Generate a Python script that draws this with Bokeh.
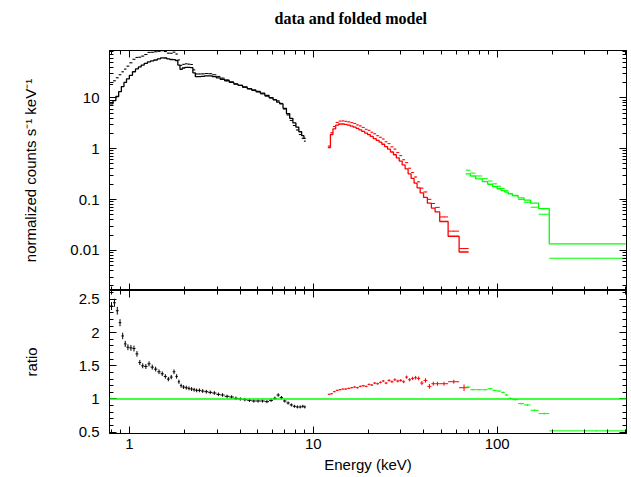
import numpy as np
from bokeh.plotting import figure
from bokeh.layouts import column
from bokeh.models import (Range1d, LogAxis, LinearAxis, Span, Title,
                          NumeralTickFormatter, LogTicker, SingleIntervalTicker)
from bokeh.embed import file_html
from bokeh.resources import INLINE

# ---------------- data ----------------
# black instrument: bin centres (keV), folded model, data/model ratio
black_e = [0.80, 0.83, 0.86, 0.89, 0.92, 0.95, 0.98, 1.02, 1.06, 1.10,
           1.14, 1.18, 1.23, 1.28, 1.33, 1.39, 1.45, 1.51, 1.57, 1.63,
           1.69, 1.75, 1.81, 1.86, 1.91, 1.97, 2.04, 2.11, 2.18, 2.25,
           2.32, 2.40, 2.50, 2.62, 2.75, 2.90, 3.05, 3.20, 3.40, 3.60,
           3.80, 4.00, 4.25, 4.50, 4.75, 5.00, 5.30, 5.60, 5.90, 6.20,
           6.45, 6.70, 7.00, 7.30, 7.60, 7.90, 8.20, 8.50, 8.80, 9.00]
black_model = [7.6, 8.8, 10.6, 13.2, 16.6, 20.0, 23.5, 27.5, 32.5, 37.0,
               40.5, 44.0, 47.5, 51.0, 53.0, 55.3, 58.0, 61.0, 60.5, 58.0,
               56.5, 56.0, 54.0, 44.0, 36.3, 38.5, 39.7, 39.5, 39.2, 31.0,
               26.0, 26.0, 26.3, 27.0, 27.0, 26.0, 24.6, 23.0, 21.6, 20.0,
               18.6, 17.6, 16.3, 15.2, 14.3, 13.4, 12.3, 11.2, 10.1, 9.1,
               8.2, 7.6, 6.2, 4.9, 3.95, 3.2, 2.65, 2.15, 1.8, 1.6]
black_ratio = [2.40, 2.45, 2.33, 2.15, 1.95, 1.83, 1.78, 1.77, 1.76, 1.68,
               1.55, 1.50, 1.49, 1.53, 1.48, 1.45, 1.41, 1.38, 1.34, 1.30,
               1.33, 1.41, 1.34, 1.26, 1.20, 1.18, 1.17, 1.16, 1.15, 1.14,
               1.13, 1.13, 1.12, 1.11, 1.10, 1.09, 1.07, 1.06, 1.04, 1.03,
               1.01, 1.00, 0.99, 0.98, 0.97, 0.97, 0.97, 0.96, 0.98, 1.01,
               1.06, 1.02, 0.97, 0.94, 0.91, 0.89, 0.88, 0.88, 0.89, 0.88]
black_range = [0.785, 9.1]

# red instrument
red_e = [12.2, 12.6, 13.0, 13.5, 14.0, 14.5, 15.0, 15.6, 16.2, 16.8,
         17.4, 18.0, 18.7, 19.4, 20.1, 20.8, 21.6, 22.4, 23.2, 24.0,
         24.9, 25.8, 26.8, 27.8, 28.8, 29.9, 31.0, 32.2, 33.4, 34.7,
         36.0, 37.4, 38.9, 40.7, 42.8, 45.0, 47.0, 50.5, 58.0, 66.5]
red_model = [1.05, 1.9, 2.45, 2.9, 3.05, 3.05, 3.0, 2.9, 2.78, 2.65,
             2.5, 2.35, 2.18, 2.02, 1.88, 1.74, 1.58, 1.46, 1.34, 1.22,
             1.1, 0.98, 0.86, 0.76, 0.66, 0.57, 0.48, 0.40, 0.32, 0.26,
             0.21, 0.17, 0.135, 0.11, 0.085, 0.068, 0.057, 0.037, 0.019, 0.0093]
red_ratio = [1.07, 1.08, 1.11, 1.13, 1.14, 1.15, 1.15, 1.16, 1.17, 1.18,
             1.17, 1.19, 1.20, 1.19, 1.22, 1.21, 1.24, 1.23, 1.25, 1.27,
             1.24, 1.28, 1.26, 1.29, 1.27, 1.28, 1.26, 1.33, 1.29, 1.31,
             1.32, 1.31, 1.24, 1.28, 1.19, 1.23, 1.23, 1.23, 1.26, 1.17]
red_err = [0.01, 0.01, 0.01, 0.01, 0.01, 0.01, 0.01, 0.01, 0.01, 0.01,
           0.012, 0.012, 0.012, 0.012, 0.012, 0.014, 0.014, 0.015, 0.015, 0.016,
           0.017, 0.018, 0.018, 0.02, 0.02, 0.02, 0.022, 0.024, 0.025, 0.026,
           0.028, 0.03, 0.032, 0.034, 0.036, 0.03, 0.03, 0.03, 0.03, 0.05]
red_range = [12.0, 70.0]

# green instrument: bin edges (keV)
green_edges = [67.5, 71.5, 76.4, 83.0, 88.8, 94.5, 100.0, 105.0, 110.0, 115.0,
               121.0, 130.0, 140.0, 152.0, 168.0, 192.0, 500.0]
green_model = [0.32, 0.29, 0.255, 0.225, 0.20, 0.18, 0.163, 0.15, 0.14, 0.13,
               0.12, 0.108, 0.097, 0.085, 0.066, 0.0135]
green_ratio = [1.18, 1.14, 1.14, 1.14, 1.155, 1.13, 1.12, 1.10, 1.06, 1.01,
               0.99, 0.93, 0.91, 0.83, 0.78, 0.52]
green_err = [0.012, 0.01, 0.01, 0.01, 0.01, 0.01, 0.01, 0.01, 0.012, 0.012,
             0.012, 0.012, 0.014, 0.014, 0.014, 0.01]

BLACK, RED, GREEN = "#000000", "#ff0000", "#00ff00"
FONT = "Liberation Sans"


def edges_from_centres(c, rng):
    c = np.asarray(c, dtype=float)
    mids = np.sqrt(c[:-1] * c[1:])
    return np.concatenate([[rng[0]], mids, [rng[1]]])


def hist_xy(edges, vals):
    xs = np.repeat(np.asarray(edges, dtype=float), 2)[1:-1]
    ys = np.repeat(np.asarray(vals, dtype=float), 2)
    return xs, ys


def crosses(p, edges, vals, err, color):
    edges = np.asarray(edges, dtype=float)
    vals = np.asarray(vals, dtype=float)
    err = np.asarray(err, dtype=float)
    lo, hi = edges[:-1], edges[1:]
    c = 0.5 * (lo + hi)
    p.segment(lo, vals, hi, vals, line_color=color, line_width=1)
    p.segment(c, vals - err, c, vals + err, line_color=color, line_width=1)


black_edges = edges_from_centres(black_e, black_range)
red_edges = edges_from_centres(red_e, red_range)

bm = np.array(black_model); br = np.array(black_ratio); bd = bm * br
rm = np.array(red_model); rr = np.array(red_ratio); rd = rm * rr
gm = np.array(green_model); gr = np.array(green_ratio); gd = gm * gr

x_rng = Range1d(0.78, 505)


def style_axis(ax, labels=True):
    ax.axis_line_color = "black"
    ax.axis_line_width = 1
    ax.major_tick_in = 7
    ax.major_tick_out = 0
    ax.minor_tick_in = 4
    ax.minor_tick_out = 0
    ax.major_tick_line_color = "black"
    ax.minor_tick_line_color = "black"
    if labels:
        ax.major_label_text_font = FONT
        ax.major_label_text_font_size = "15px"
        ax.major_label_text_color = "black"
        ax.axis_label_text_font = FONT
        ax.axis_label_text_font_size = "15px"
        ax.axis_label_text_font_style = "normal"
        ax.axis_label_text_color = "black"
    else:
        ax.major_label_text_font_size = "1px"
        ax.major_label_text_alpha = 0.0
        ax.major_label_standoff = 0


# ---------------- upper panel ----------------
top = figure(frame_width=517, frame_height=240, x_axis_type="log", y_axis_type="log",
             x_range=x_rng, y_range=Range1d(0.00163, 85),
             output_backend="svg", toolbar_location=None,
             min_border_left=109, min_border_right=5, min_border_top=0, min_border_bottom=0)
top.grid.visible = False
top.outline_line_color = "black"
top.background_fill_color = "white"
top.border_fill_color = "white"
top.title = Title(text="data and folded model", align="left", offset=165,
                  text_font="Liberation Serif", text_font_size="16px",
                  text_font_style="bold", text_color="black", standoff=14)

top.xaxis.ticker = LogTicker(num_minor_ticks=10)
style_axis(top.xaxis[0], labels=False)
top.yaxis.ticker = LogTicker(num_minor_ticks=10)
top.yaxis.formatter = NumeralTickFormatter(format="0.[00]")
top.yaxis.axis_label = "normalized counts s\u207b\u00b9 keV\u207b\u00b9"
top.yaxis.major_label_standoff = 10
top.yaxis.axis_label_standoff = 28
style_axis(top.yaxis[0])

ax_t = LogAxis(ticker=LogTicker(num_minor_ticks=10))
style_axis(ax_t, labels=False)
top.add_layout(ax_t, "above")
# blank spacer between the frame and the title
top.add_layout(Title(text="\u00a0", text_font_size="1px", text_color="white",
                     standoff=14), "above")
ax_r = LogAxis(ticker=LogTicker(num_minor_ticks=10))
style_axis(ax_r, labels=False)
top.add_layout(ax_r, "right")

for edges, model, data, frac, col in [(black_edges, bm, bd, 0.012, BLACK),
                                       (red_edges, rm, rd, 0.015, RED),
                                       (np.array(green_edges), gm, gd, 0.012, GREEN)]:
    hx, hy = hist_xy(edges, model)
    top.line(hx, hy, line_color=col, line_width=1.3)
    crosses(top, edges, data, data * frac, col)

# ---------------- lower panel ----------------
bot = figure(frame_width=517, frame_height=143, x_axis_type="log",
             x_range=x_rng, y_range=Range1d(0.48, 2.635),
             output_backend="svg", toolbar_location=None,
             min_border_left=109, min_border_right=5, min_border_top=0, min_border_bottom=10)
bot.grid.visible = False
bot.outline_line_color = "black"
bot.background_fill_color = "white"
bot.border_fill_color = "white"

bot.xaxis.ticker = LogTicker(num_minor_ticks=10)
bot.xaxis.formatter = NumeralTickFormatter(format="0.[00]")
bot.xaxis.axis_label = "Energy (keV)"
bot.xaxis.major_label_standoff = 5
bot.xaxis.axis_label_standoff = 4
style_axis(bot.xaxis[0])
bot.yaxis.ticker = SingleIntervalTicker(interval=0.5, num_minor_ticks=5)
bot.yaxis.formatter = NumeralTickFormatter(format="0.[0]")
bot.yaxis.axis_label = "ratio"
bot.yaxis.major_label_standoff = 10
bot.yaxis.axis_label_standoff = 36
style_axis(bot.yaxis[0])

bx_t = LogAxis(ticker=LogTicker(num_minor_ticks=10))
style_axis(bx_t, labels=False)
bot.add_layout(bx_t, "above")
bx_r = LinearAxis(ticker=SingleIntervalTicker(interval=0.5, num_minor_ticks=5))
style_axis(bx_r, labels=False)
bot.add_layout(bx_r, "right")

bot.add_layout(Span(location=1.0, dimension="width", line_color=GREEN, line_width=1.5))

black_ratio_err = br * 0.025
crosses(bot, black_edges, br, black_ratio_err, BLACK)
crosses(bot, red_edges, rr, np.array(red_err), RED)
crosses(bot, np.array(green_edges), gr, np.array(green_err), GREEN)

layout = column(top, bot, spacing=0)
open("out.html", "w").write(file_html(layout, INLINE))
